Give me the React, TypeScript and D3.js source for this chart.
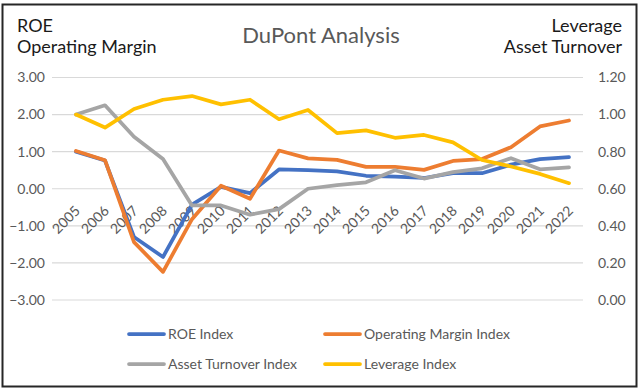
import React from "react";
import * as d3 from "d3";

const years = ["2005", "2006", "2007", "2008", "2009", "2010", "2011", "2012", "2013", "2014", "2015", "2016", "2017", "2018", "2019", "2020", "2021", "2022"];

// left axis series
const roeIndex = [1.0, 0.76, -1.3, -1.84, -0.43, 0.05, -0.12, 0.52, 0.5, 0.47, 0.35, 0.33, 0.29, 0.42, 0.42, 0.65, 0.8, 0.85];
const opMarginIndex = [1.02, 0.77, -1.44, -2.24, -0.82, 0.08, -0.27, 1.03, 0.82, 0.78, 0.59, 0.59, 0.51, 0.75, 0.8, 1.12, 1.68, 1.84];

// right axis series
const assetTurnoverIndex = [1.0, 1.05, 0.88, 0.76, 0.51, 0.51, 0.46, 0.49, 0.6, 0.62, 0.635, 0.7, 0.655, 0.69, 0.71, 0.765, 0.705, 0.715];
const leverageIndex = [1.0, 0.93, 1.03, 1.08, 1.1, 1.055, 1.08, 0.975, 1.025, 0.9, 0.915, 0.875, 0.89, 0.85, 0.755, 0.72, 0.68, 0.63];

const leftTicks = [-3, -2, -1, 0, 1, 2, 3];
const rightTicks = [0, 0.2, 0.4, 0.6, 0.8, 1.0, 1.2];

const legendItems = [
    { label: "ROE Index", color: "#4472C4" },
    { label: "Operating Margin Index", color: "#ED7D31" },
    { label: "Asset Turnover Index", color: "#A5A5A5" },
    { label: "Leverage Index", color: "#FFC000" },
];

const font = "Lato, 'Open Sans', sans-serif";
const tickColor = "#595959";

export default function App() {
    const width = 640;
    const height = 390;
    const plot = { left: 52, right: 583, top: 77.5, bottom: 300 };

    const x = d3.scalePoint<string>().domain(years).range([76, 569]);
    const yL = d3.scaleLinear().domain([-3, 3]).range([plot.bottom, plot.top]);
    const yR = d3.scaleLinear().domain([0, 1.2]).range([plot.bottom, plot.top]);

    const lineL = d3.line<number>().x((_, i) => x(years[i]) as number).y(d => yL(d));
    const lineR = d3.line<number>().x((_, i) => x(years[i]) as number).y(d => yR(d));

    // drawing order follows the legend: primary axis first, then secondary
    const series = [
        { d: lineL(roeIndex), color: legendItems[0].color },
        { d: lineL(opMarginIndex), color: legendItems[1].color },
        { d: lineR(assetTurnoverIndex), color: legendItems[2].color },
        { d: lineR(leverageIndex), color: legendItems[3].color },
    ];

    const fmt = d3.format(".2f");

    return (
        <svg width={width} height={height} style={{ position: "absolute", left: 0, top: 0, background: "#fff" }} fontFamily={font}>
            <rect x={0} y={0} width={width} height={height} fill="#fff" />
            <rect x={2.5} y={4.5} width={634} height={382} fill="none" stroke="#262626" strokeWidth={2} />

            {/* titles */}
            <text x={321} y={43} textAnchor="middle" fontSize={22} fill={tickColor}>DuPont Analysis</text>
            <text x={17} y={32} fontSize={18} fill="#1a1a1a">ROE</text>
            <text x={17} y={53} fontSize={18} fill="#1a1a1a">Operating Margin</text>
            <text x={622} y={32} textAnchor="end" fontSize={18} fill="#1a1a1a">Leverage</text>
            <text x={622} y={53} textAnchor="end" fontSize={18} fill="#1a1a1a">Asset Turnover</text>

            {/* gridlines and left ticks */}
            {leftTicks.map(t => (
                <g key={"l" + t}>
                    <line x1={plot.left} x2={plot.right} y1={yL(t)} y2={yL(t)} stroke="#D9D9D9" strokeWidth={1.2} />
                    <text x={45} y={yL(t)} dy="0.35em" textAnchor="end" fontSize={14} fill={tickColor}>{fmt(t)}</text>
                </g>
            ))}
            {rightTicks.map(t => (
                <text key={"r" + t} x={598} y={yR(t)} dy="0.35em" fontSize={14} fill={tickColor}>{fmt(t)}</text>
            ))}

            {/* x labels sit on the zero line */}
            {years.map(yr => {
                const px = (x(yr) as number) + 5;
                const py = yL(0) + 23;
                return (
                    <text key={yr} x={px} y={py} transform={`rotate(-45,${px},${py})`} textAnchor="end" fontSize={14} fill={tickColor}>{yr}</text>
                );
            })}

            {/* lines */}
            {series.map((s, i) => (
                <path key={i} d={s.d || ""} fill="none" stroke={s.color} strokeWidth={3.75} strokeLinejoin="round" strokeLinecap="round" />
            ))}

            {/* legend */}
            {legendItems.map((item, i) => {
                const lx = i % 2 === 0 ? 129 : 325;
                const ly = i < 2 ? 334 : 364;
                return (
                    <g key={item.label}>
                        <line x1={lx} x2={lx + 35} y1={ly} y2={ly} stroke={item.color} strokeWidth={3.75} strokeLinecap="round" />
                        <text x={lx + 39} y={ly} dy="0.35em" fontSize={14} fill={tickColor}>{item.label}</text>
                    </g>
                );
            })}
        </svg>
    );
}
